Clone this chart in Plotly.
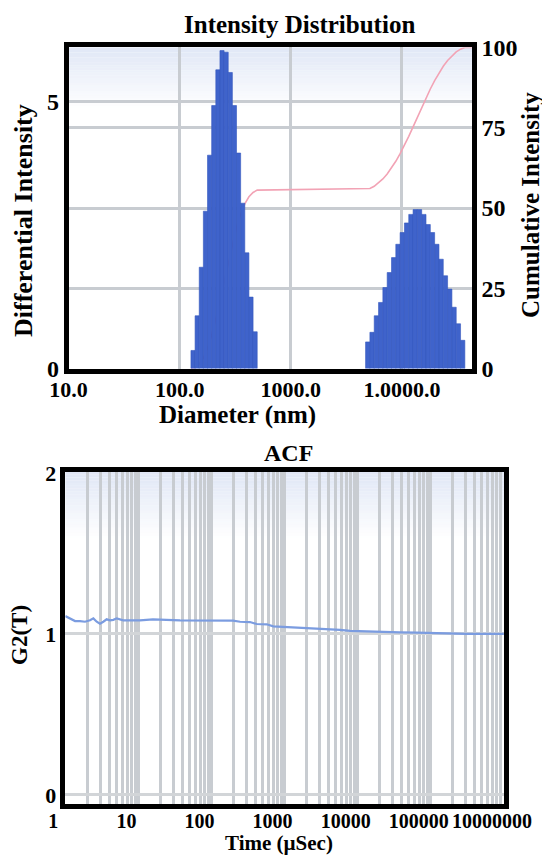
import numpy as np
import plotly.graph_objects as go

# ---------------- Intensity Distribution data ----------------
peak1_diameter_nm = [131.9, 143.7, 156.6, 170.6, 185.9, 202.6, 220.7, 240.5,
                     262.0, 285.5, 311.1, 338.9, 369.3, 402.3, 438.4, 477.6]
peak1_intensity = [0.34, 0.99, 1.90, 2.95, 4.00, 4.93, 5.60, 5.96,
                   5.93, 5.55, 4.93, 4.04, 3.10, 2.17, 1.34, 0.69]
peak2_diameter_nm = [4921, 5381, 5886, 6436, 7039, 7698, 8418, 9204, 10063,
                     11005, 12034, 13159, 14391, 15735, 17205, 18816, 20574,
                     22496, 24604, 26909, 29422, 32171, 35177]
peak2_intensity = [0.50, 0.68, 0.99, 1.24, 1.52, 1.80, 2.08, 2.33, 2.55,
                   2.73, 2.89, 2.98, 2.98, 2.89, 2.70, 2.55, 2.33, 2.05,
                   1.74, 1.49, 1.15, 0.84, 0.53]
diameter_ticks = [10, 100, 1000, 10000]
diameter_ticktext = ["10.0", "100.0", "1000.0", "1.0000.0"]
diff_ticks = [0, 5]
cum_ticks = [0, 25, 50, 75, 100]

# ---------------- ACF data ----------------
acf_time_us = [1.0, 1.10, 1.22, 1.36, 1.59, 1.86, 2.18, 2.42, 2.69, 2.98, 3.31,
               3.68, 4.09, 4.54, 5.05, 5.60, 6.21, 10.5, 15.8, 37.1, 69.6, 197,
               246, 336, 415, 569, 700, 959, 1186, 1624, 2748, 5728, 7852, 13280,
               22390, 37900, 64100, 108200, 183200, 309800, 522700, 1000000]
acf_g2 = [1.111, 1.101, 1.091, 1.080, 1.080, 1.076, 1.085, 1.097, 1.076, 1.064,
          1.076, 1.091, 1.085, 1.088, 1.097, 1.091, 1.085, 1.085, 1.091, 1.085,
          1.085, 1.083, 1.076, 1.074, 1.062, 1.060, 1.047, 1.044, 1.040, 1.039,
          1.033, 1.025, 1.019, 1.015, 1.012, 1.010, 1.008, 1.005, 1.003, 1.001,
          1.001, 1.000]
time_ticks = [1, 10, 100, 1000, 10000, 100000, 1000000]
time_ticktext = ["1", "10", "100", "1000", "10000", "100000", "10000000"]
g2_ticks = [0, 1, 2]

# ---------------- derived values ----------------
DIAM_RANGE = [1.0, 4.63]          # log10(nm)
log1 = np.log10(peak1_diameter_nm)
log2 = np.log10(peak2_diameter_nm)
w1 = float(np.median(np.diff(log1)))
w2 = float(np.median(np.diff(log2)))

all_int = np.array(peak1_intensity + peak2_intensity)
cum = np.cumsum(all_int) / all_int.sum() * 100.0
right_edges = np.concatenate([log1 + w1 / 2, log2 + w2 / 2])
cum_x = [float(log1[0] - w1 / 2)] + list(right_edges) + [DIAM_RANGE[1]]
cum_y = [0.0] + list(cum) + [100.0]

minor_time = [k * 10 ** d for d in range(6) for k in range(2, 10)]

# page body has an 8px margin: figure is laid out in page pixels minus that offset
OFF = 8
W, H = 550 - OFF, 855 - OFF


def px(x):
    return (x - OFF) / W


def py(y):
    return 1 - (y - OFF) / H


SERIF = "Liberation Serif"
GRID = "#c8ccd1"
FRAME = dict(showline=True, linecolor="black", linewidth=4.5, mirror=True)


def tfont(size):
    return dict(family=SERIF, size=size, color="black", weight="bold")


fig = go.Figure()
fig.add_trace(go.Scatter(x=cum_x, y=cum_y, xaxis="x", yaxis="y", mode="lines",
                         line=dict(color="#f2a3b5", width=1.6), hoverinfo="skip"))
fig.add_trace(go.Bar(x=log1, y=peak1_intensity, width=w1, xaxis="x", yaxis="y2",
                     marker=dict(color="#3f63cb", line=dict(color="#3457bd", width=0.6))))
fig.add_trace(go.Bar(x=log2, y=peak2_intensity, width=w2, xaxis="x", yaxis="y2",
                     marker=dict(color="#3f63cb", line=dict(color="#3457bd", width=0.6))))
fig.add_trace(go.Scatter(x=acf_time_us, y=acf_g2, xaxis="x2", yaxis="y3", mode="lines",
                         line=dict(color="#7b9ce0", width=2.2)))


def gradient(xr, yr, frac, rgb, amax, n=24):
    out = []
    for k in range(n):
        a = amax * (1 - (k + 0.5) / n)
        out.append(dict(type="rect", xref=xr, yref=yr, x0=0, x1=1,
                        y0=1 - frac * (k + 1) / n, y1=1 - frac * k / n,
                        fillcolor=f"rgba({rgb},{a:.3f})", line=dict(width=0),
                        layer="below"))
    return out


shapes = gradient("x domain", "y domain", 0.19, "224,231,246", 1.0) + \
    gradient("x2 domain", "y3 domain", 0.20, "224,231,246", 1.0)

annotations = [
    dict(text="Intensity Distribution", x=px(299.5), y=py(25), font=tfont(25)),
    dict(text="Diameter (nm)", x=px(237), y=py(415), font=tfont(25)),
    dict(text="Differential Intensity", x=px(23), y=py(221), font=tfont(26), textangle=-90),
    dict(text="Cumulative Intensity", x=px(530), y=py(205), font=tfont(25), textangle=-90),
    dict(text="ACF", x=px(288), y=py(453), font=tfont(24)),
    dict(text="G2(T)", x=px(19), y=py(635), font=tfont(23), textangle=-90),
    dict(text="Time (µSec)", x=px(278.5), y=py(843), font=tfont(21)),
]
for a in annotations:
    a.update(xref="paper", yref="paper", xanchor="center", yanchor="middle", showarrow=False)

fig.update_layout(
    width=W, height=H, margin=dict(l=0, r=0, t=0, b=0, pad=0, autoexpand=False),
    paper_bgcolor="white", plot_bgcolor="white", showlegend=False,
    barmode="overlay",
    xaxis=dict(domain=[px(68.5), px(472)], range=DIAM_RANGE, anchor="y",
               automargin=False,
               tickmode="array", tickvals=list(np.log10(diameter_ticks)),
               ticktext=diameter_ticktext, tickangle=0, ticklabelstandoff=-3,
               showgrid=True, gridcolor=GRID, gridwidth=3, zeroline=False,
               ticks="", tickfont=tfont(22), **FRAME),
    yaxis=dict(domain=[py(368.6), py(47.4)], range=[0, 100],
               side="right", anchor="x", automargin=False,
               tickmode="array", tickvals=cum_ticks,
               showgrid=True, gridcolor=GRID, gridwidth=3, zeroline=False,
               ticks="", tickfont=tfont(24), **FRAME),
    yaxis2=dict(overlaying="y", side="left", anchor="x", range=[0, 6.02],
                automargin=False,
                tickmode="array", tickvals=diff_ticks,
                showgrid=True, gridcolor=GRID, gridwidth=3, zeroline=False,
                showline=True, linecolor="black", linewidth=4.5,
                ticks="", tickfont=tfont(24)),
    xaxis2=dict(domain=[px(65.3), px(503.9)], type="log", range=[0, 6], anchor="y3",
                automargin=False,
                tickmode="array", tickvals=time_ticks, ticktext=time_ticktext,
                tickangle=0, ticklabelshift=-12, ticklabelstandoff=-5,
                showgrid=True, gridcolor=GRID, gridwidth=3, zeroline=False,
                minor=dict(tickmode="array", tickvals=minor_time, showgrid=True,
                           gridcolor=GRID, gridwidth=3, ticks=""),
                ticks="", tickfont=tfont(20), **FRAME),
    yaxis3=dict(domain=[py(804), py(472)], range=[-0.056, 2.006],
                anchor="x2", automargin=False,
                tickmode="array", tickvals=g2_ticks,
                showgrid=True, gridcolor="#d2d5d8", gridwidth=2.5, zeroline=False,
                ticks="", tickfont=tfont(22), **FRAME),
    shapes=shapes,
    annotations=annotations,
)

fig.write_html("out.html")
